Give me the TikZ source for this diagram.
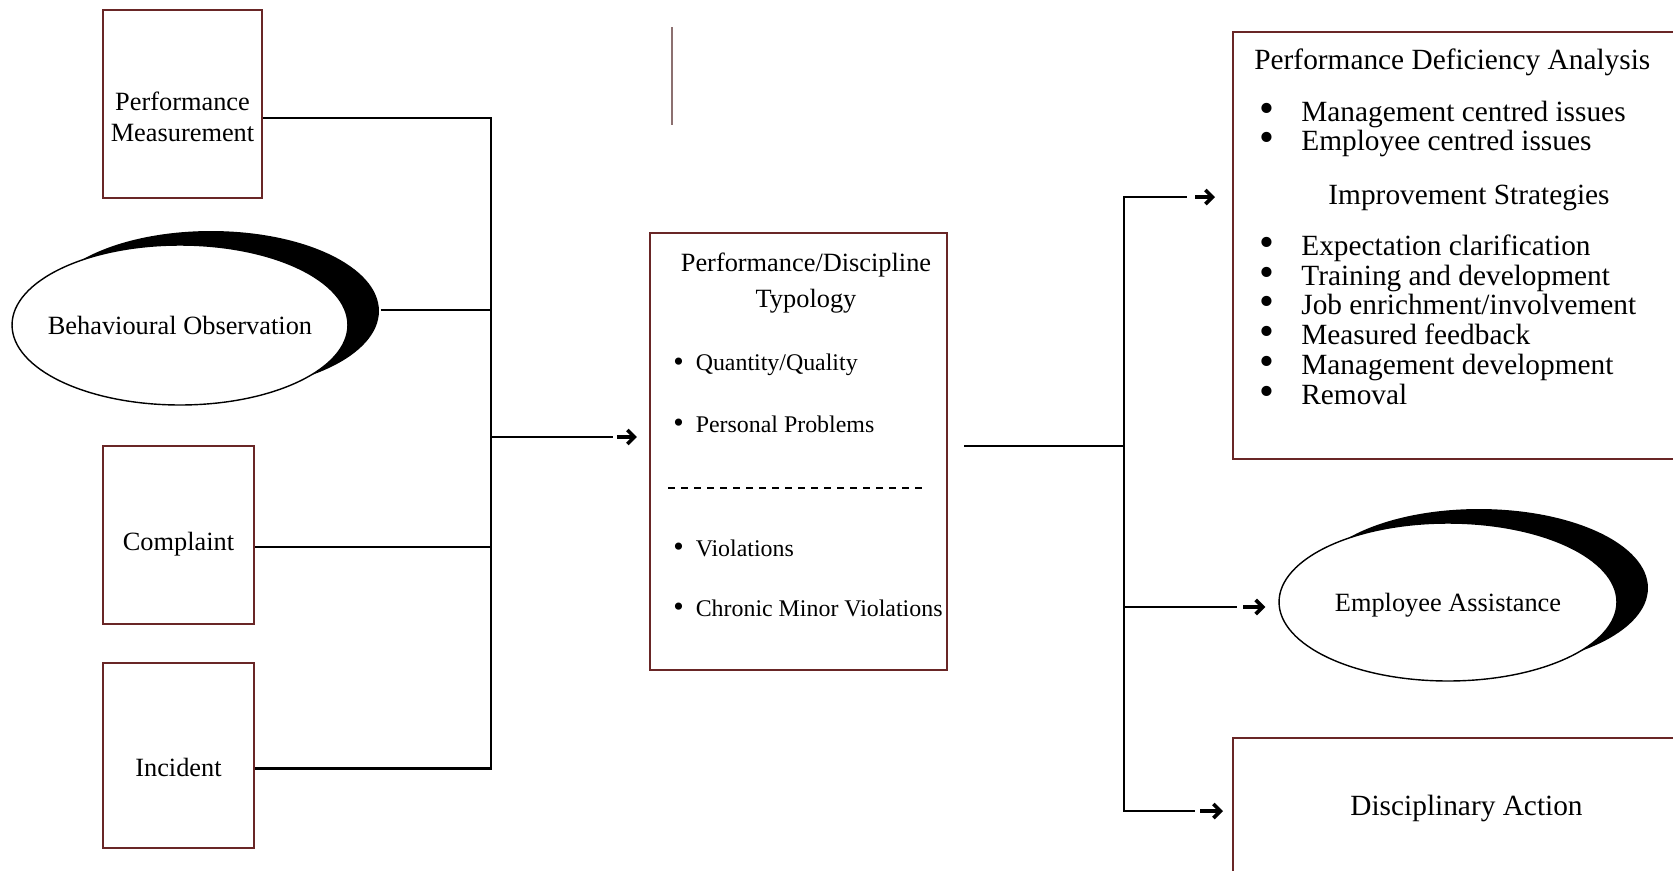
\documentclass[tikz,border=0pt]{standalone}
\usepackage{fontspec}
\setmainfont{Liberation Serif}
\usetikzlibrary{arrows.meta,positioning,shapes.geometric,calc,shadows}
\definecolor{boxred}{RGB}{105,38,38}
\definecolor{markgray}{RGB}{140,112,112}
\newcommand{\blt}{\makebox[0.84cm][l]{\raisebox{-0.02cm}{\scalebox{1.45}{\textbullet}}}}
\newcommand{\sbl}{\raisebox{-0.01cm}{\scalebox{1.25}{\textbullet}}}
\newcommand{\dn}[2]{\raisebox{-#1}[\height][\depth]{#2}}

\begin{document}
\begin{tikzpicture}[x=0.02cm, y=-0.02cm,
    box/.style={rectangle, draw=boxred, line width=1.2pt, align=center, inner sep=0pt,
      font=\fontsize{15}{18}\selectfont},
    oval/.style={ellipse, draw=black, line width=0.8pt, fill=white, minimum width=6.72cm,
      minimum height=3.2cm, inner sep=0pt, font=\fontsize{15}{18}\selectfont,
      drop shadow={shadow xshift=0.62cm, shadow yshift=0.28cm, fill=black, opacity=1}},
    txt/.style={inner sep=0pt, align=center},
    listitem/.style={inner sep=0pt, anchor=west, align=left},
    conn/.style={line width=1.2pt, black},
    arrowtip/.style={-{Straight Barb[length=4pt, width=8pt]}, line width=2.1pt}
  ]
  \path[use as bounding box] (0,0) rectangle (1673,870);
  \clip (0,0) rectangle (1673,870);

  % sources
  \node[box, minimum width=3.18cm, minimum height=3.76cm] (pm) at (182.5,104)
    {\dn{0.26cm}{Performance}\\\dn{0.26cm}{Measurement}};
  \node[oval, inner xsep=-0.28cm] (obs) at (180,325) {Behavioural Observation};
  \node[box, minimum width=3.02cm, minimum height=3.56cm] (comp) at (178.5,535) {\dn{0.18cm}{Complaint}};
  \node[box, minimum width=3.02cm, minimum height=3.7cm] (inc) at (178.5,755.5) {\dn{0.24cm}{Incident}};

  % typology
  \node[box, minimum width=5.94cm, minimum height=8.74cm] (typ) at (798.5,451.5) {};
  \node[txt, font=\fontsize{15}{20}\selectfont] (typt) at (806,283) {Performance/Discipline\\Typology};
  \node[listitem, font=\fontsize{13.6}{16}\selectfont] (ty1) at (673,365) {\sbl\enspace Quantity/Quality};
  \node[listitem, font=\fontsize{13.6}{16}\selectfont] (ty2) at (673,424) {\sbl\enspace Personal Problems};
  \node[listitem, font=\fontsize{13.6}{16}\selectfont] (ty3) at (673,548) {\sbl\enspace Violations};
  \node[listitem, font=\fontsize{13.6}{16}\selectfont] (ty4) at (673,608) {\sbl\enspace Chronic Minor Violations};
  \draw[dash pattern=on 4pt off 3.4pt, line width=0.6pt] (668,488) -- (926,488);

  % outcomes
  \node[box, minimum width=9.34cm, minimum height=8.54cm] (pda) at (1466.5,245.5) {};
  \node[listitem, font=\fontsize{16.7}{17}\selectfont] (pdat) at (1254,62) {Performance Deficiency Analysis};
  \node[listitem, font=\fontsize{16.7}{17}\selectfont] (pdal) at (1259,129)
    {\blt Management centred issues\\\blt Employee centred issues};
  \node[txt, font=\fontsize{16.7}{17}\selectfont] (imp) at (1469,198) {Improvement Strategies};
  \node[listitem, font=\fontsize{16.7}{17}\selectfont] (impl) at (1259,320)
    {\blt Expectation clarification\\\blt Training and development\\\blt Job enrichment/involvement\\
     \blt Measured feedback\\\blt Management development\\\blt Removal};
  \node[oval, minimum width=6.76cm, minimum height=3.16cm] (eap) at (1448,602) {\dn{0.06cm}{Employee Assistance}};
  \node[box, minimum width=9.34cm, minimum height=2.8cm, font=\fontsize{16.7}{20}\selectfont] (disc) at (1466.5,808) {Disciplinary Action};

  \draw[markgray, line width=0.6pt] (672,27) -- (672,125);

  % left bus
  \coordinate (busl) at (491,437);
  \draw[conn] ($(pm.east)+(0,14)$) -| (busl);
  \draw[conn] ($(obs.east)+(32,-15)$) -| (busl);
  \draw[conn] ($(comp.east)+(0,12)$) -| (busl);
  \draw[conn] ($(inc.east)+(0,13)$) -| (busl);
  \draw[conn] (busl) -- ($(busl -| typ.west)+(-36,0)$);
  \draw[arrowtip] ($(busl -| typ.west)+(-32,0)$) -- ($(busl -| typ.west)+(-12,0)$);

  % right bus
  \coordinate (busr) at (1124,446);
  \draw[conn] ($(typ.east)+(16,-5.5)$) -- (busr);
  \draw[conn] (busr) |- ($(pda.west)+(-45,-48.5)$);
  \draw[arrowtip] ($(pda.west)+(-37,-48.5)$) -- ($(pda.west)+(-17,-48.5)$);
  \draw[conn] (busr) |- ($(eap.west)+(-41,5)$);
  \draw[arrowtip] ($(eap.west)+(-35,5)$) -- ($(eap.west)+(-13,5)$);
  \draw[conn] (busr) |- ($(disc.west)+(-37,3)$);
  \draw[arrowtip] ($(disc.west)+(-32,3)$) -- ($(disc.west)+(-9,3)$);
\end{tikzpicture}
\end{document}
